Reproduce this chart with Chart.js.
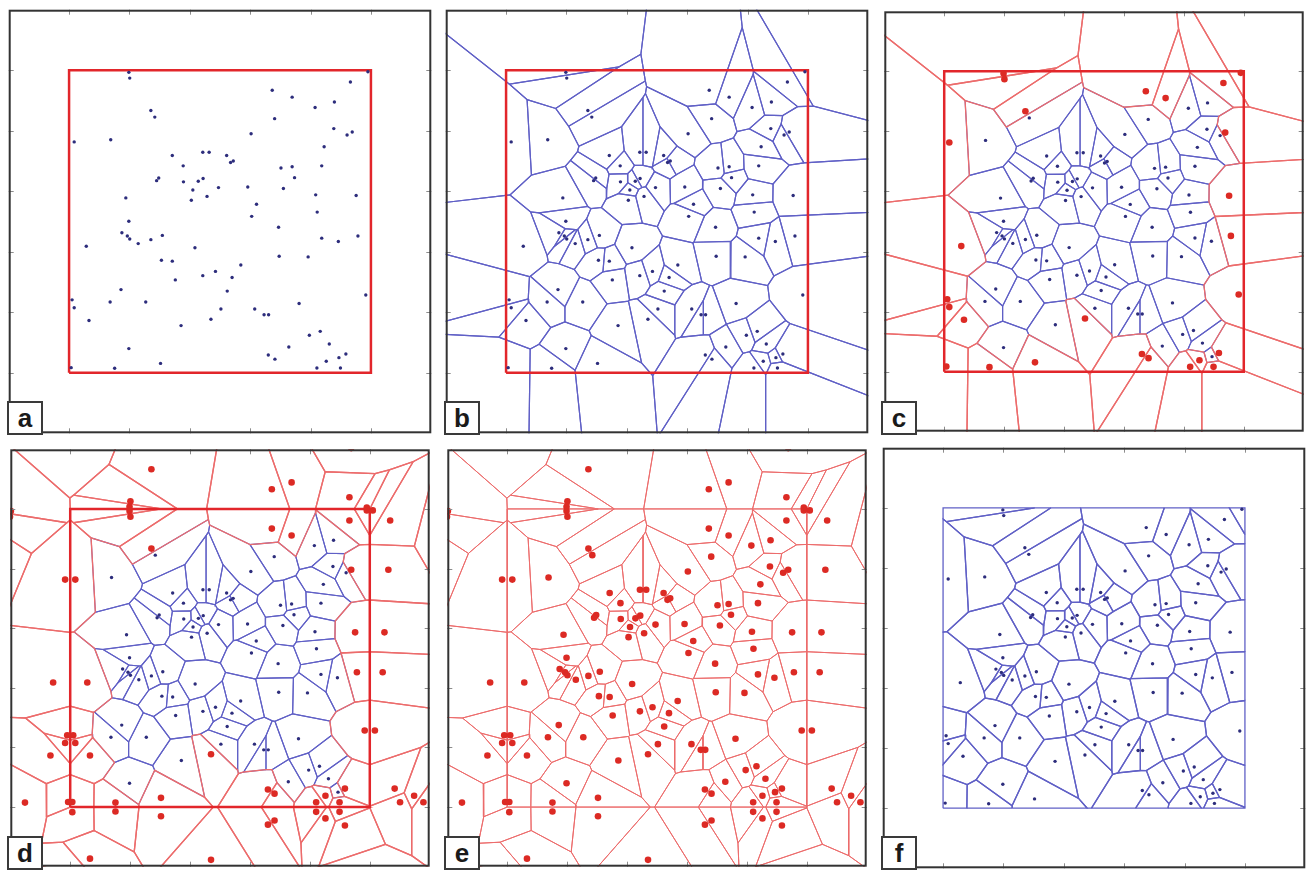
<!DOCTYPE html>
<html>
<head>
<meta charset="utf-8">
<script src="https://cdn.jsdelivr.net/npm/chart.js@4.4.1/dist/chart.umd.min.js"></script>
<style>
  html, body { margin: 0; padding: 0; background: #fff; width: 1309px; height: 871px; overflow: hidden; }
  .panel { position: absolute; }
  .panel canvas { display: block; }
  .tag {
    position: absolute; left: 0; bottom: 0; width: 36px; height: 34px; box-sizing: border-box;
    border: 2px solid #3a3a3a; background: #fff; color: #1a1a1a;
    font: bold 26px "Liberation Sans", Arial, sans-serif; text-align: center; line-height: 30px;
  }
</style>
</head>
<body>
<script>
// Generator sites inside the unit square (x to the right, y upwards)
const siteX = [
  0.198, 0.201, 0.271, 0.284, 0.017, 0.138, 0.342, 0.443, 0.464, 0.378,
  0.297, 0.290, 0.379, 0.428, 0.444, 0.495, 0.410, 0.457, 0.405, 0.188,
  0.198, 0.673, 0.932, 0.739, 0.815, 0.879, 0.681, 0.603, 0.877, 0.921,
  0.938, 0.845, 0.522, 0.535, 0.544, 0.702, 0.739, 0.837, 0.747, 0.592,
  0.710, 0.817, 0.951, 0.621, 0.605, 0.822, 0.990, 0.175, 0.193, 0.201,
  0.229, 0.271, 0.309, 0.057, 0.417, 0.306, 0.342, 0.443, 0.485, 0.352,
  0.172, 0.010, 0.017, 0.136, 0.254, 0.066, 0.371, 0.470, 0.198, 0.303,
  0.007, 0.151, 0.694, 0.837, 0.892, 0.957, 0.696, 0.792, 0.569, 0.540,
  0.524, 0.983, 0.762, 0.503, 0.615, 0.646, 0.661, 0.832, 0.796, 0.862,
  0.728, 0.660, 0.682, 0.917, 0.894, 0.852, 0.821, 0.899
];
const siteY = [
  0.993, 0.974, 0.867, 0.845, 0.763, 0.770, 0.718, 0.729, 0.729, 0.684,
  0.644, 0.635, 0.631, 0.633, 0.642, 0.612, 0.604, 0.583, 0.570, 0.578,
  0.501, 0.934, 0.961, 0.911, 0.877, 0.895, 0.840, 0.790, 0.807, 0.786,
  0.796, 0.747, 0.718, 0.695, 0.700, 0.677, 0.681, 0.684, 0.645, 0.614,
  0.609, 0.588, 0.586, 0.557, 0.517, 0.531, 0.995, 0.463, 0.452, 0.442,
  0.427, 0.440, 0.454, 0.418, 0.413, 0.372, 0.369, 0.321, 0.335, 0.307,
  0.275, 0.241, 0.215, 0.234, 0.234, 0.173, 0.156, 0.177, 0.080, 0.031,
  0.017, 0.015, 0.481, 0.445, 0.434, 0.452, 0.385, 0.383, 0.356, 0.315,
  0.270, 0.257, 0.229, 0.211, 0.211, 0.192, 0.192, 0.137, 0.124, 0.095,
  0.085, 0.059, 0.045, 0.062, 0.050, 0.038, 0.016, 0.016
];
const panelLetters = ['a', 'b', 'c', 'd', 'e', 'f'];
const axisRange = [-0.2, 1.2];
const tickValues = [0, 0.2, 0.4, 0.6, 0.8, 1.0];
const domain = [0, 1];

// Layout of the 3 x 2 grid of panels
const colLeft = [7, 444, 881];
const rowTop = [8, 446];
const panelW = 426;
const rowH = [427, 424];

const BLUE_LINE = 'rgb(96,96,198)';
const RED_LINE = 'rgb(236,108,108)';
const BLUE_DOT = '#2d2d7c';
const RED_DOT = '#dc2a24';
const BOX_RED = '#e2262b';
const BLUE_W = 1.15;
const RED_W = 1.35;

// ---- Voronoi cells by half-plane clipping ----
function clipHalf(poly, nx, ny, c) {
  const out = [];
  const n = poly.length;
  for (let k = 0; k < n; k++) {
    const p = poly[k], q = poly[(k + 1) % n];
    const dp = nx * p[0] + ny * p[1] - c;
    const dq = nx * q[0] + ny * q[1] - c;
    if (dp <= 0) out.push(p);
    if ((dp < 0 && dq > 0) || (dp > 0 && dq < 0)) {
      const t = dp / (dp - dq);
      out.push([p[0] + t * (q[0] - p[0]), p[1] + t * (q[1] - p[1])]);
    }
  }
  return out;
}
function cellsOf(sites, lo, hi) {
  return sites.map((s, i) => {
    let poly = [[lo, lo], [hi, lo], [hi, hi], [lo, hi]];
    for (let j = 0; j < sites.length && poly.length; j++) {
      if (j === i) continue;
      const t = sites[j];
      const nx = t[0] - s[0], ny = t[1] - s[1];
      const c = (t[0] * t[0] + t[1] * t[1] - s[0] * s[0] - s[1] * s[1]) / 2;
      poly = clipHalf(poly, nx, ny, c);
    }
    return poly;
  });
}

const sites = siteX.map((x, i) => [x, siteY[i]]);
const cellsOrig = cellsOf(sites, -10, 11);
const eps = 1e-9;
const onEdge = cellsOrig.map(poly => poly.some(v =>
  v[0] < domain[0] - eps || v[0] > domain[1] + eps || v[1] < domain[0] - eps || v[1] > domain[1] + eps));

// reflect every boundary site across the four sides of the square
const mirrors = [];
sites.forEach((s, i) => {
  if (!onEdge[i]) return;
  mirrors.push([2 * domain[0] - s[0], s[1]]);
  mirrors.push([2 * domain[1] - s[0], s[1]]);
  mirrors.push([s[0], 2 * domain[0] - s[1]]);
  mirrors.push([s[0], 2 * domain[1] - s[1]]);
});
const allSites = sites.concat(mirrors);
const cellsAll = cellsOf(allSites, -10, 11);
const cellsBounded = cellsOf(sites, domain[0], domain[1]);

// ---- dataset helpers ----
function cellDataset(poly, color, width, order) {
  const data = poly.map(v => ({ x: v[0], y: v[1] }));
  if (data.length) data.push({ x: poly[0][0], y: poly[0][1] });
  return { data, showLine: true, borderColor: color, borderWidth: width, pointRadius: 0, fill: false, tension: 0, order };
}
function dotDataset(pts, color, radius, order) {
  return {
    data: pts.map(p => ({ x: p[0], y: p[1] })), showLine: false,
    pointRadius: radius, pointBackgroundColor: color, pointBorderWidth: 0, pointHoverRadius: radius, order
  };
}
function boxDataset(color, width) {
  const [a, b] = domain;
  return cellDataset([[a, a], [b, a], [b, b], [a, b]], color, width, 1);
}

const interiorSites = sites.filter((s, i) => !onEdge[i]);
const edgeSites = sites.filter((s, i) => onEdge[i]);

function panelDatasets(letter) {
  const ds = [];
  if (letter === 'a') {
    ds.push(boxDataset(BOX_RED, 2.5));
    ds.push(dotDataset(sites, BLUE_DOT, 1.7, 0));
  } else if (letter === 'b') {
    cellsOrig.forEach(p => ds.push(cellDataset(p, BLUE_LINE, 1.2, 3)));
    ds.push(boxDataset(BOX_RED, 2.5));
    ds.push(dotDataset(sites, BLUE_DOT, 1.7, 0));
  } else if (letter === 'c') {
    cellsOrig.forEach((p, i) => ds.push(onEdge[i] ? cellDataset(p, RED_LINE, RED_W, 2) : cellDataset(p, BLUE_LINE, BLUE_W, 3)));
    ds.push(boxDataset(BOX_RED, 2.5));
    ds.push(dotDataset(interiorSites, BLUE_DOT, 1.7, 0));
    ds.push(dotDataset(edgeSites, RED_DOT, 3.3, 0));
  } else if (letter === 'd') {
    cellsAll.forEach((p, i) => {
      const interior = i < sites.length && !onEdge[i];
      ds.push(interior ? cellDataset(p, BLUE_LINE, BLUE_W, 3) : cellDataset(p, RED_LINE, RED_W, 2));
    });
    ds.push(boxDataset(BOX_RED, 2.5));
    ds.push(dotDataset(interiorSites, BLUE_DOT, 1.7, 0));
    ds.push(dotDataset(edgeSites.concat(mirrors), RED_DOT, 3.3, 0));
  } else if (letter === 'e') {
    cellsAll.forEach(p => ds.push(cellDataset(p, RED_LINE, 1, 2)));
    ds.push(dotDataset(allSites, RED_DOT, 3.3, 0));
  } else {
    cellsBounded.forEach(p => ds.push(cellDataset(p, BLUE_LINE, 1.3, 3)));
    ds.push(dotDataset(sites, BLUE_DOT, 1.7, 0));
  }
  return ds;
}

// frame and inward tick marks drawn from the chart's own scales
const framePlugin = {
  id: 'panelFrame',
  afterDraw(chart) {
    const { ctx, chartArea: a, scales } = chart;
    ctx.save();
    ctx.strokeStyle = '#8c8c8c';
    ctx.lineWidth = 1;
    ctx.beginPath();
    tickValues.forEach(v => {
      const px = Math.round(scales.x.getPixelForValue(v)) + 0.5;
      ctx.moveTo(px, a.top); ctx.lineTo(px, a.top + 5);
      ctx.moveTo(px, a.bottom); ctx.lineTo(px, a.bottom - 5);
      const py = Math.round(scales.y.getPixelForValue(v)) + 0.5;
      ctx.moveTo(a.left, py); ctx.lineTo(a.left + 5, py);
      ctx.moveTo(a.right, py); ctx.lineTo(a.right - 5, py);
    });
    ctx.stroke();
    ctx.strokeStyle = '#333';
    ctx.lineWidth = 2;
    ctx.strokeRect(a.left + 1, a.top + 1, a.right - a.left - 2, a.bottom - a.top - 2);
    ctx.restore();
  }
};

panelLetters.forEach((letter, k) => {
  const col = k % 3, row = Math.floor(k / 3);
  const div = document.createElement('div');
  div.className = 'panel';
  div.style.left = colLeft[col] + 'px';
  div.style.top = rowTop[row] + 'px';
  div.style.width = panelW + 'px';
  div.style.height = rowH[row] + 'px';
  const canvas = document.createElement('canvas');
  canvas.width = panelW;
  canvas.height = rowH[row];
  canvas.style.width = panelW + 'px';
  canvas.style.height = rowH[row] + 'px';
  div.appendChild(canvas);
  const tag = document.createElement('div');
  tag.className = 'tag';
  tag.textContent = letter;
  div.appendChild(tag);
  document.body.appendChild(div);

  new Chart(canvas, {
    type: 'scatter',
    data: { datasets: panelDatasets(letter) },
    options: {
      responsive: false,
      animation: false,
      events: [],
      devicePixelRatio: 1,
      layout: { padding: 0 },
      plugins: { legend: { display: false }, tooltip: { enabled: false } },
      scales: {
        x: { type: 'linear', min: axisRange[0], max: axisRange[1], display: false },
        y: { type: 'linear', min: axisRange[0], max: axisRange[1], display: false }
      }
    },
    plugins: [framePlugin]
  });
});
</script>
</body>
</html>
